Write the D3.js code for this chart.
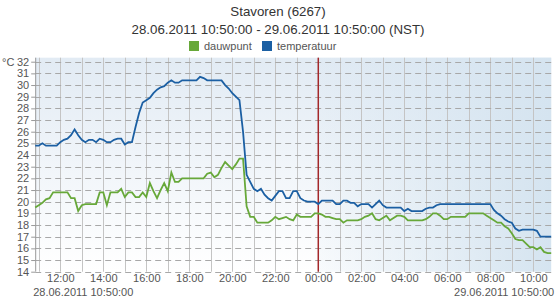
<!DOCTYPE html>
<html>
<head>
<meta charset="utf-8">
<script src="https://cdn.jsdelivr.net/npm/d3@7"></script>
<style>
  body { margin: 0; background: #fff; }
  text { font-family: "Liberation Sans", Arial, sans-serif; }
</style>
</head>
<body>
<svg id="chart" width="555" height="300"></svg>
<script>
// measurements every 10 minutes, 28.06.2011 10:50 -> 29.06.2011 10:50
var START = new Date(2011, 5, 28, 10, 50);
var END = new Date(2011, 5, 29, 10, 50);
var MIDNIGHT = new Date(2011, 5, 29, 0, 0);

var temperatuur = [
  24.8,
  24.8, 25.0, 24.8, 24.8, 24.8, 24.8,   // 11
  25.1, 25.3, 25.4, 25.7, 26.2, 25.7,   // 12
  25.3, 25.1, 25.3, 25.3, 25.1, 25.4,   // 13
  25.3, 25.1, 25.1, 25.3, 25.4, 25.4,   // 14
  24.9, 25.1, 25.1, 26.4, 27.6, 28.5,   // 15
  28.7, 28.9, 29.3, 29.6, 29.8, 29.9,   // 16
  30.2, 30.4, 30.2, 30.2, 30.4, 30.4,   // 17
  30.4, 30.4, 30.4, 30.7, 30.6, 30.4,   // 18
  30.4, 30.4, 30.4, 30.4, 30.0, 29.7,   // 19
  29.3, 29.0, 28.7, 26.0, 22.3, 21.7,   // 20
  21.1, 20.9, 21.1, 20.6, 20.3, 20.1,   // 21
  20.5, 20.9, 20.9, 20.3, 20.3, 20.9,   // 22
  20.9, 20.3, 20.1, 20.0, 20.0, 20.0,   // 23
  19.8, 20.1, 20.1, 20.1, 20.1, 19.8,   // 00
  19.8, 20.1, 20.1, 19.9, 19.9, 19.6,   // 01
  19.8, 19.8, 19.8, 19.5, 19.8, 20.1,   // 02
  19.7, 19.5, 19.5, 19.5, 19.5, 19.5,   // 03
  19.2, 19.4, 19.2, 19.2, 19.2, 19.2,   // 04
  19.4, 19.5, 19.5, 19.7, 19.8, 19.8,   // 05
  19.8, 19.8, 19.8, 19.8, 19.8, 19.8,   // 06
  19.8, 19.8, 19.8, 19.8, 19.8, 19.8,   // 07
  19.8, 19.3, 19.0, 18.8, 18.5, 18.3,   // 08
  18.2, 17.7, 17.5, 17.6, 17.6, 17.6,   // 09
  17.6, 17.5, 17.0, 17.0, 17.0, 17.0    // 10
];

var dauwpunt = [
  19.5,
  19.7, 19.9, 20.2, 20.3, 20.8, 20.8,   // 11
  20.8, 20.8, 20.8, 20.3, 20.3, 19.2,   // 12
  19.7, 19.8, 19.8, 19.8, 19.8, 20.8,   // 13
  20.8, 19.7, 20.8, 20.8, 20.8, 21.1,   // 14
  20.4, 20.8, 20.8, 20.4, 20.4, 20.8,   // 15
  20.4, 21.6, 20.9, 20.3, 21.0, 21.6,   // 16
  20.9, 22.5, 21.7, 21.7, 22.0, 22.0,   // 17
  22.0, 22.0, 22.0, 22.0, 22.0, 22.4,   // 18
  22.5, 22.1, 22.3, 22.9, 23.4, 23.1,   // 19
  22.8, 23.2, 23.7, 23.7, 19.6, 18.7,   // 20
  18.7, 18.2, 18.2, 18.2, 18.2, 18.4,   // 21
  18.7, 18.5, 18.6, 18.7, 18.5, 18.4,   // 22
  18.9, 18.7, 18.7, 18.7, 18.7, 19.0,   // 23
  19.0, 18.9, 18.7, 18.7, 18.6, 18.5,   // 00
  18.5, 18.2, 18.4, 18.4, 18.4, 18.4,   // 01
  18.5, 18.7, 18.8, 19.0, 18.5, 18.4,   // 02
  18.6, 18.8, 18.4, 18.6, 18.8, 18.8,   // 03
  18.7, 18.4, 18.4, 18.4, 18.4, 18.4,   // 04
  18.5, 18.7, 19.0, 19.0, 18.8, 18.5,   // 05
  18.5, 18.7, 18.7, 18.7, 18.7, 18.7,   // 06
  19.0, 19.0, 19.0, 19.0, 19.0, 18.8,   // 07
  18.6, 18.4, 18.2, 18.2, 17.9, 17.7,   // 08
  17.3, 16.8, 16.7, 16.7, 16.4, 16.1,   // 09
  16.1, 15.9, 16.1, 15.7, 15.6, 15.6    // 10
];

var Y_TICKS = d3.range(14, 33);

var svg = d3.select('#chart');
var plotLeft = 35.2, plotRight = 551.2, plotTop = 61.7, plotBottom = 271.7;
var FONT = '"Liberation Sans", Arial, sans-serif';

var x = d3.scaleTime().domain([START, END]).range([plotLeft, plotRight]);
var y = d3.scaleLinear().domain([14, 32]).range([plotBottom, plotTop]);

function timeAt(i) {
  return new Date(START.getTime() + i * 10 * 60 * 1000);
}

// backgrounds
var defs = svg.append('defs');
var vg = defs.append('linearGradient').attr('id', 'bgv')
    .attr('x1', 0).attr('y1', 0).attr('x2', 0).attr('y2', 1);
vg.append('stop').attr('offset', 0).attr('stop-color', '#e2ebf4');
vg.append('stop').attr('offset', 1).attr('stop-color', '#ffffff');
var hg = defs.append('linearGradient').attr('id', 'bgh')
    .attr('x1', 0).attr('y1', 0).attr('x2', 1).attr('y2', 0);
hg.append('stop').attr('offset', 0).attr('stop-color', '#d5e4f0').attr('stop-opacity', 0.15);
hg.append('stop').attr('offset', 1).attr('stop-color', '#d5e4f0').attr('stop-opacity', 1);

svg.append('rect')
    .attr('x', plotLeft).attr('y', plotTop - 4)
    .attr('width', plotRight - plotLeft).attr('height', plotBottom - plotTop + 4)
    .attr('fill', 'url(#bgv)');
svg.append('rect')
    .attr('x', x(MIDNIGHT)).attr('y', plotTop - 4)
    .attr('width', plotRight - x(MIDNIGHT)).attr('height', plotBottom - plotTop + 4)
    .attr('fill', 'url(#bgh)');

// vertical grid, every hour
svg.append('g').selectAll('line')
    .data(d3.timeHour.range(d3.timeHour.ceil(START), END))
    .enter().append('line')
    .attr('x1', function(d) { return Math.round(x(d)) + 0.5; })
    .attr('x2', function(d) { return Math.round(x(d)) + 0.5; })
    .attr('y1', plotTop - 4).attr('y2', plotBottom)
    .attr('stroke', '#c4c4c4').attr('stroke-width', 1);

// horizontal dashed grid
svg.append('g').selectAll('line')
    .data(Y_TICKS)
    .enter().append('line')
    .attr('x1', plotLeft).attr('x2', plotRight)
    .attr('y1', function(d) { return Math.round(y(d)) + 0.5; })
    .attr('y2', function(d) { return Math.round(y(d)) + 0.5; })
    .attr('stroke', '#a8a8a8').attr('stroke-width', 1)
    .attr('stroke-dasharray', '6,4');

// midnight marker
svg.append('line')
    .attr('x1', x(MIDNIGHT)).attr('x2', x(MIDNIGHT))
    .attr('y1', plotTop - 4).attr('y2', plotBottom)
    .attr('stroke', '#a3282a').attr('stroke-width', 1.5);

// y axis
var yAxis = d3.axisLeft(y).tickValues(Y_TICKS).tickSize(4).tickPadding(2);
var gy = svg.append('g').attr('transform', 'translate(' + plotLeft + ',0)').call(yAxis);
gy.select('.domain').attr('stroke', '#999').attr('d', 'M0.5,' + (plotTop - 4) + 'V' + plotBottom);
gy.selectAll('.tick line').attr('stroke', '#999');
gy.selectAll('.tick text').attr('fill', '#555').style('font-size', '11px')
    .style('font-family', FONT);

svg.append('text').attr('x', 2).attr('y', plotTop + 4)
    .attr('fill', '#555').style('font-size', '11px').text('°C');

// x axis labels
var xAxis = d3.axisBottom(x)
    .tickValues(d3.timeHour.every(2).range(d3.timeHour.ceil(START), END))
    .tickFormat(d3.timeFormat('%H:%M')).tickSize(0).tickPadding(3);
var gx = svg.append('g').attr('transform', 'translate(0,' + plotBottom + ')').call(xAxis);
gx.select('.domain').remove();
gx.selectAll('.tick text').attr('fill', '#555').style('font-size', '11px')
    .style('font-family', FONT);

var fmtFull = d3.timeFormat('%d.%m.%Y %H:%M:%S');
svg.append('text').attr('x', x(START) - 2).attr('y', 296)
    .attr('fill', '#555').style('font-size', '11px').text(fmtFull(START));
svg.append('text').attr('x', x(END) + 3).attr('y', 296).attr('text-anchor', 'end')
    .attr('fill', '#555').style('font-size', '11px').text(fmtFull(END));

// lines
var line = d3.line()
    .x(function(d, i) { return x(timeAt(i)); })
    .y(function(d) { return y(d); });

svg.append('path').datum(dauwpunt)
    .attr('d', line).attr('fill', 'none')
    .attr('stroke', '#67a839').attr('stroke-width', 1.8);
svg.append('path').datum(temperatuur)
    .attr('d', line).attr('fill', 'none')
    .attr('stroke', '#1b5fa3').attr('stroke-width', 1.8);

// titles
svg.append('text').attr('x', 278).attr('y', 16).attr('text-anchor', 'middle')
    .attr('fill', '#333').style('font-size', '13.3px').text('Stavoren (6267)');
svg.append('text').attr('x', 278).attr('y', 34).attr('text-anchor', 'middle')
    .attr('fill', '#333').style('font-size', '13.3px')
    .text('28.06.2011 10:50:00 - 29.06.2011 10:50:00 (NST)');

// legend
var legend = [
  {name: 'dauwpunt', color: '#67a839', x: 189},
  {name: 'temperatuur', color: '#1b5fa3', x: 262}
];
var lg = svg.append('g').selectAll('g').data(legend).enter().append('g');
lg.append('rect').attr('x', function(d) { return d.x; }).attr('y', 41)
    .attr('width', 10).attr('height', 10).attr('fill', function(d) { return d.color; });
lg.append('text').attr('x', function(d) { return d.x + 15; }).attr('y', 50)
    .attr('fill', '#555').style('font-size', '11px').text(function(d) { return d.name; });
</script>
</body>
</html>
